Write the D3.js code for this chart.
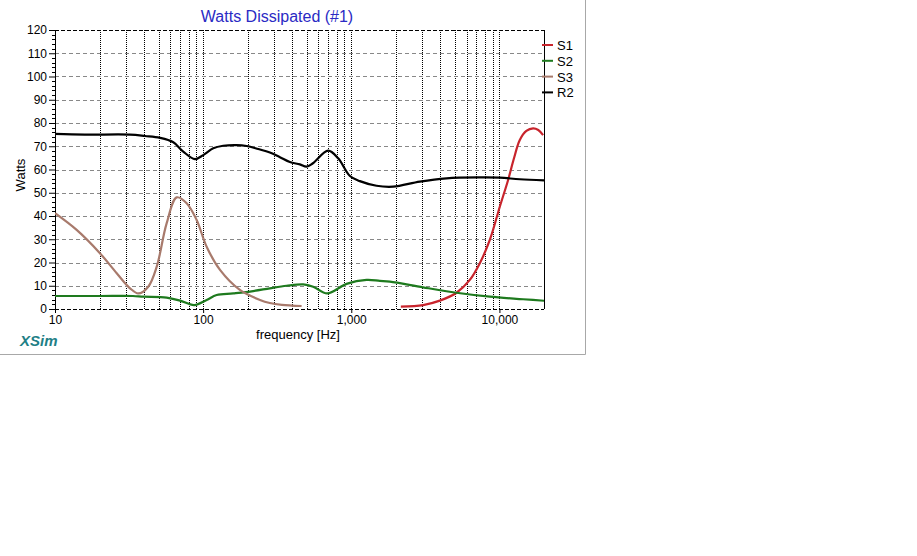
<!DOCTYPE html>
<html>
<head>
<meta charset="utf-8">
<script src="https://cdn.jsdelivr.net/npm/d3@7"></script>
<style>
  body { margin: 0; background: #fff; }
  svg { display: block; font-family: Arial, "Liberation Sans", sans-serif; }
  .tick text { font-size: 12px; fill: #000; }
</style>
</head>
<body>
<div id="chart"></div>
<script>

// values: [frequency Hz, watts]
const s1 = [[2161,1.0],[3056,1.7],[3961,3.6],[5134,7],[6314,12.5],[7375,19.7],[8614,29.7],[10060,44],[11450,55.5],[12500,64.5],[13730,72.7],[15200,76.6],[16880,77.7],[18300,77],[19720,74.8]];
const s2 = [[10,5.6],[20,5.6],[33.6,5.6],[39.4,5.3],[56.7,4.9],[69.8,3.6],[87.1,1.7],[105.6,3.9],[123.4,6],[159.7,6.7],[217.8,7.7],[282,8.9],[366,10],[474,10.6],[553,9.6],[688,6.7],[929,10.8],[1268,12.5],[1560,12.1],[1822,11.8],[3057,9.3],[5134,7],[8614,5.3],[14450,4.2],[21500,3.4]];
const s3 = [[10,41.2],[14,34],[20.1,24],[26.1,15.4],[32.1,8.9],[36.5,6.7],[42.6,9.6],[48.6,18.2],[56.7,36.8],[66.3,48],[77.4,45.5],[90.4,38.3],[105.6,26.8],[130,16.8],[177,8.2],[242,3.9],[282,2.6],[340,1.8],[462,1.3]];
const r2 = [[10,75.3],[15.9,75],[32.1,75],[40.5,74.4],[51.1,73.6],[62.9,71.7],[73.4,67.7],[88.1,64.5],[100.2,66.2],[117,69.1],[136.6,70.2],[168.3,70.5],[196.6,70.1],[235.4,68.8],[282.3,67.3],[329.8,65.3],[385,63.2],[450,62.2],[499,61.2],[551,62.7],[698,68.1],[816,64.8],[979,57.2],[1143,55],[1481,53],[1917,52.6],[2904,54.8],[4395,56.2],[7375,56.6],[10060,56.5],[13730,55.8],[21500,55.2]];

const seriesNames = ["S1", "S2", "S3", "R2"];
const seriesColors = ["#c8242c", "#1e7a1e", "#a87a6c", "#000000"];
const seriesData = [s1, s2, s3, r2];

const yTicks = [0, 10, 20, 30, 40, 50, 60, 70, 80, 90, 100, 110, 120];
const xTicks = [10, 100, 1000, 10000];
const xTickLabels = ["10", "100", "1,000", "10,000"];

const W = 917, H = 556;
const margin = {top: 30, left: 55, right: 373, bottom: 247};
const width = W - margin.left - margin.right;
const height = H - margin.top - margin.bottom;

const svg = d3.select("#chart").append("svg")
  .attr("width", W)
  .attr("height", H);

// panel border (right and bottom)
svg.append("path")
  .attr("d", "M585.5,0V354.5H0")
  .attr("fill", "none")
  .attr("stroke", "#a8a8a8");

const g = svg.append("g")
  .attr("transform", "translate(" + margin.left + "," + margin.top + ")");

const x = d3.scaleLog()
  .domain([10, 20000])
  .range([0, width]);

const y = d3.scaleLinear()
  .domain([0, 120])
  .range([height, 0]);

// vertical dotted grid
let minor = [];
for (let dec = 10; dec < 20000; dec *= 10) {
  for (let k = 1; k < 10; k++) {
    let f = dec * k;
    if (f > 10 && f < 20000) minor.push(f);
  }
}
g.selectAll("line.vgrid")
  .data(minor)
  .enter().append("line")
  .attr("class", "vgrid")
  .attr("x1", d => Math.round(x(d)) + 0.5)
  .attr("x2", d => Math.round(x(d)) + 0.5)
  .attr("y1", 0)
  .attr("y2", height)
  .attr("stroke", "#000")
  .attr("stroke-dasharray", "1,1");

// horizontal dashed grid
g.selectAll("line.hgrid")
  .data(yTicks.slice(1, -1))
  .enter().append("line")
  .attr("class", "hgrid")
  .attr("x1", 0)
  .attr("x2", width)
  .attr("y1", d => Math.round(y(d)) + 0.5)
  .attr("y2", d => Math.round(y(d)) + 0.5)
  .attr("stroke", "#888")
  .attr("stroke-dasharray", "4,3");

// frame: top / bottom dashed, sides solid
g.append("line").attr("x1", 0).attr("x2", width).attr("y1", 0.5).attr("y2", 0.5)
  .attr("stroke", "#000").attr("stroke-dasharray", "4,2");
g.append("line").attr("x1", 0).attr("x2", width).attr("y1", height + 0.5).attr("y2", height + 0.5)
  .attr("stroke", "#000").attr("stroke-dasharray", "4,2");
g.append("line").attr("x1", 0.5).attr("x2", 0.5).attr("y1", 0).attr("y2", height).attr("stroke", "#000");
g.append("line").attr("x1", width + 0.5).attr("x2", width + 0.5).attr("y1", 0).attr("y2", height).attr("stroke", "#000");

// y axis
const yAxis = d3.axisLeft(y)
  .tickValues(yTicks)
  .tickSize(6)
  .tickPadding(2);
const yAxisGroup = g.append("g").attr("class", "y-axis").call(yAxis);
yAxisGroup.select(".domain").remove();

// minor y ticks every 2
g.selectAll("line.yminor")
  .data(d3.range(0, 121, 2).filter(v => v % 10 !== 0))
  .enter().append("line")
  .attr("class", "yminor")
  .attr("x1", -3).attr("x2", 0)
  .attr("y1", d => Math.round(y(d)) + 0.5)
  .attr("y2", d => Math.round(y(d)) + 0.5)
  .attr("stroke", "#000");

// x axis
const xAxis = d3.axisBottom(x)
  .tickValues(xTicks)
  .tickFormat((d, i) => xTickLabels[i])
  .tickSize(4)
  .tickPadding(2);
const xAxisGroup = g.append("g")
  .attr("class", "x-axis")
  .attr("transform", "translate(0," + height + ")")
  .call(xAxis);
xAxisGroup.select(".domain").remove();

// curves
const line = d3.line()
  .x(d => x(d[0]))
  .y(d => y(d[1]))
  .curve(d3.curveCatmullRom.alpha(0.5));

g.append("clipPath").attr("id", "clip")
  .append("rect").attr("width", width).attr("height", height + 2).attr("y", -1);

g.selectAll("path.series")
  .data(seriesData)
  .enter().append("path")
  .attr("class", "series")
  .attr("clip-path", "url(#clip)")
  .attr("d", d => line(d))
  .attr("fill", "none")
  .attr("stroke", (d, i) => seriesColors[i])
  .attr("stroke-width", 2.2)
  .attr("stroke-linejoin", "round");

// legend
const legend = svg.selectAll("g.legend")
  .data(seriesNames)
  .enter().append("g")
  .attr("class", "legend")
  .attr("transform", (d, i) => "translate(542," + (45 + i * 15.8) + ")");
legend.append("line")
  .attr("x1", 0).attr("x2", 11)
  .attr("stroke", (d, i) => seriesColors[i])
  .attr("stroke-width", 2);
legend.append("text")
  .attr("x", 15)
  .attr("y", 5)
  .attr("font-size", "13px")
  .text(d => d);

// titles
svg.append("text")
  .attr("x", 277)
  .attr("y", 22)
  .attr("text-anchor", "middle")
  .attr("font-size", "16px")
  .attr("fill", "#2a2ac4")
  .text("Watts Dissipated (#1)");

svg.append("text")
  .attr("x", 298)
  .attr("y", 339)
  .attr("text-anchor", "middle")
  .attr("font-size", "13px")
  .text("frequency [Hz]");

svg.append("text")
  .attr("transform", "translate(25,175) rotate(-90)")
  .attr("text-anchor", "middle")
  .attr("font-size", "13px")
  .text("Watts");

svg.append("text")
  .attr("x", 20)
  .attr("y", 346)
  .attr("font-size", "15px")
  .attr("font-weight", "bold")
  .attr("font-style", "italic")
  .attr("fill", "#1f7f86")
  .text("XSim");

</script>
</body>
</html>
